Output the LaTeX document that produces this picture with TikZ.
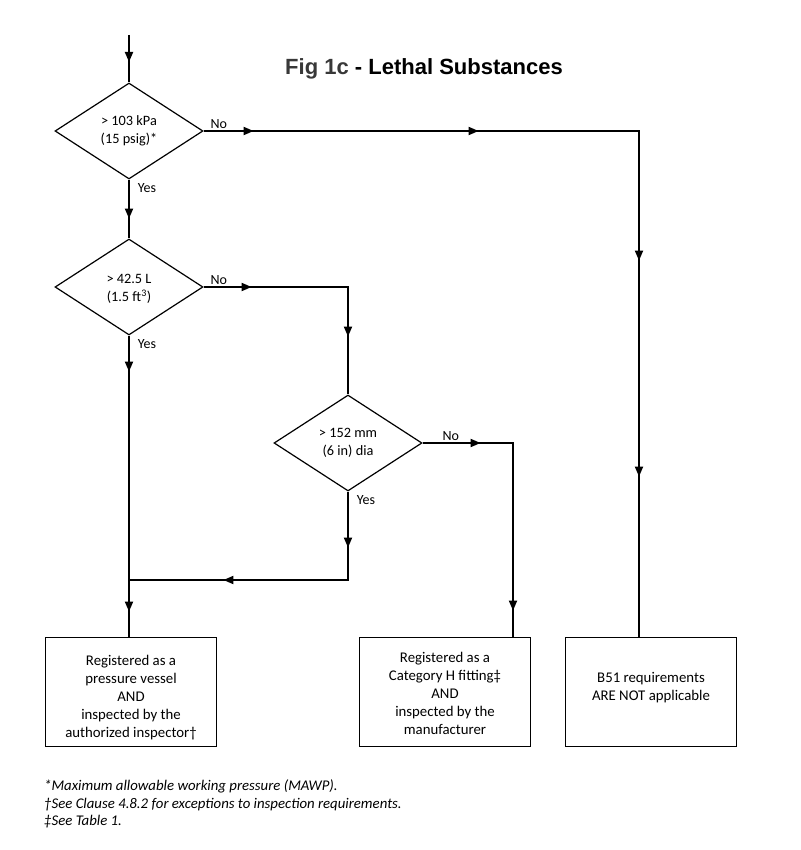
\documentclass[tikz,border=0pt]{standalone}
\usepackage{fontspec}
\setmainfont{Carlito}
\newfontfamily\titlefont{Liberation Sans}
\usetikzlibrary{shapes.geometric, arrows.meta, decorations.markings, positioning}

\begin{document}
\begin{tikzpicture}[x=1pt, y=-1pt,
  decision/.style = {draw, diamond, aspect=1.54, minimum width=148pt, minimum height=96pt, inner sep=0pt, line width=1.2pt, align=center, font=\fontsize{14.3}{17.5}\selectfont},
  outcome/.style = {draw, rectangle, minimum width=171pt, minimum height=109pt, line width=1.8pt, align=center, font=\fontsize{14.8}{18}\selectfont},
  flow/.style = {line width=1.8pt},
  tip at/.style = {postaction={decorate, decoration={markings, mark=at position #1 with {\arrow{Triangle[length=10pt, width=8pt]}}}}},
  answer/.style = {font=\fontsize{14}{16}\selectfont, inner sep=2pt}]
\useasboundingbox (0,0) rectangle (800,850);
\node[font=\titlefont\bfseries\fontsize{22}{24}\selectfont] (title) at (424,68.5) {{\color{black!78}Fig 1c} - Lethal Substances};
\coordinate (entry) at (129,35);
\node[decision] (press) at (129,131) {> 103 kPa\\(15 psig)*};
\node[decision] (vol) at (129,287) {\rule{0pt}{13pt}> 42.5 L\\(1.5 ft\textsuperscript{3})};
\node[decision] (dia) at (348,443) {> 152 mm\\(6 in) dia};
\node[outcome] (vessel) at (131,692) {\rule{0pt}{22pt}Registered as a\\pressure vessel\\AND\\inspected by the\\authorized inspector†};
\node[outcome] (fitting) at (445,692) {\rule{0pt}{14pt}Registered as a\\Category H fitting‡\\AND\\inspected by the\\manufacturer};
\node[outcome] (exempt) at (651,692) {B51 requirements\\ARE NOT applicable\\[-12pt]\strut};
\coordinate (c1) at (639,131);
\coordinate (c3) at (513,443);
\coordinate (join) at (129,580);
\draw[flow, tip at=27pt] (entry) -- (press);
\draw[flow, tip at=39pt] (press.south) -- node[answer, below right, pos=0, xshift=6pt, yshift=-1pt] {Yes} (vol.north);
\draw[flow, tip at=50pt, tip at=275pt, tip at=565pt, tip at=781pt] (press.east) -- node[answer, above right, pos=0, xshift=4pt] {No} (c1) -- (c1 |- exempt.north);
\draw[flow, tip at=48pt, tip at=194pt] (vol.east) -- node[answer, above right, pos=0, xshift=4pt] {No} (dia.north |- vol.east) -- (dia.north);
\draw[flow, tip at=36pt, tip at=276pt] (vol.south) -- node[answer, below right, pos=0, xshift=6pt, yshift=-1pt] {Yes} (vol.south |- vessel.north);
\draw[flow, tip at=56pt, tip at=213pt] (dia.south) -- node[answer, below right, pos=0, xshift=6pt, yshift=-1pt] {Yes} (dia.south |- join) -- (join);
\draw[flow, tip at=58pt, tip at=258pt] (dia.east) -- node[answer, above right, pos=0, xshift=17pt] {No} (c3) -- (c3 |- fitting.north);
% footnotes
\node[anchor=north west, align=left, inner sep=0pt, font=\itshape\fontsize{14.8}{17.5}\selectfont] (notes) at (44,779.5) {*Maximum allowable working pressure (MAWP).\\†See Clause 4.8.2 for exceptions to inspection requirements.\\‡See Table 1.};
\end{tikzpicture}
\end{document}
